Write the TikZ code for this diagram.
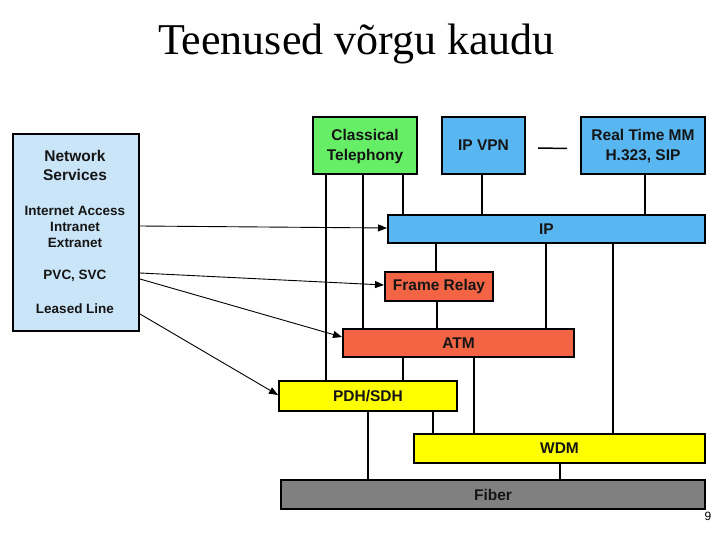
\documentclass[tikz,border=0pt]{standalone}
\usepackage{fontspec}
\setmainfont{Liberation Serif}
\newfontfamily\diagfont{Liberation Sans}
\usetikzlibrary{arrows.meta}
\definecolor{nsblue}{HTML}{CAE4F8}
\definecolor{boxgreen}{HTML}{66EE66}
\definecolor{boxblue}{HTML}{58B6F0}
\definecolor{boxred}{HTML}{F26444}
\definecolor{boxyellow}{HTML}{FFFF00}
\definecolor{boxgray}{HTML}{808080}
\definecolor{ink}{HTML}{151515}
\tikzset{
  layer/.style={draw=black, line width=2pt, inner sep=0pt, align=center, text=ink,
    font=\diagfont\bfseries\fontsize{15.5}{18}\selectfont},
  nstext/.style={inner sep=0pt, align=center, text=ink, font=\diagfont\bfseries\fontsize{13.5}{16}\selectfont},
  link/.style={line width=1.5pt},
  thicklink/.style={line width=2pt},
  svcarrow/.style={line width=0.9pt, -{Triangle[length=9pt,width=7pt]}},
}
\begin{document}
\begin{tikzpicture}[x=1pt,y=-1pt]
\useasboundingbox (0,0) rectangle (720,540);
% title
\node[font=\fontsize{44}{48}\selectfont, inner sep=0pt] (title) at (356.5,44) {Teenused võrgu kaudu};
% boxes
\node[layer, fill=nsblue, minimum width=126, minimum height=197] (NS) at (76,232.5) {};
\node[layer, fill=boxgreen, minimum width=104, minimum height=57] (CT) at (365,146) {Classical\\[2pt]Telephony};
\node[layer, fill=boxblue, minimum width=83, minimum height=57] (VPN) at (483.5,145.5) {IP VPN};
\node[layer, fill=boxblue, minimum width=124, minimum height=57] (RT) at (643,146) {Real Time MM\\[2pt]H.323, SIP};
\node[layer, fill=boxblue, minimum width=317, minimum height=28] (IP) at (546.5,229) {IP};
\node[layer, fill=boxred, minimum width=108, minimum height=29] (FR) at (439,286.5) {Frame Relay};
\node[layer, fill=boxred, minimum width=231, minimum height=28] (ATM) at (458.5,343) {ATM};
\node[layer, fill=boxyellow, minimum width=178, minimum height=30] (PDH) at (368,396) {PDH/SDH};
\node[layer, fill=boxyellow, minimum width=291, minimum height=29] (WDM) at (559.5,448.5) {WDM};
\node[layer, fill=boxgray, minimum width=424, minimum height=29] (FIB) at (493,494.5) {Fiber};
% network services text
\node[nstext, font=\diagfont\bfseries\fontsize{15.5}{19}\selectfont] (nsA) at (75,165) {Network\\Services};
\node[nstext] (nsB) at (75,226.5) {Internet Access\\Intranet\\Extranet};
\node[nstext] (nsC) at (75,275.5) {PVC, SVC};
\node[nstext] (nsD) at (75,308.5) {Leased Line};
% page number
\node[font=\diagfont\fontsize{12}{14}\selectfont, inner sep=0pt] (pg) at (708,516) {9};
% vertical links
\draw[link] (CT.south -| 326,0) -- (PDH.north -| 326,0);
\draw[thicklink] (CT.south -| 363,0) -- (ATM.north -| 363,0);
\draw[link] (CT.south -| 403,0) -- (IP.north -| 403,0);
\draw[thicklink] (VPN.south -| 482,0) -- (IP.north -| 482,0);
\draw[link] (RT.south -| 645,0) -- (IP.north -| 645,0);
\draw[link] (IP.south -| 436,0) -- (FR.north -| 436,0);
\draw[link] (IP.south -| 546,0) -- (ATM.north -| 546,0);
\draw[link] (IP.south -| 613,0) -- (WDM.north -| 613,0);
\draw[thicklink] (FR.south -| 437,0) -- (ATM.north -| 437,0);
\draw[link] (ATM.south -| 403,0) -- (PDH.north -| 403,0);
\draw[link] (ATM.south -| 474,0) -- (WDM.north -| 474,0);
\draw[thicklink] (PDH.south -| 368,0) -- (FIB.north -| 368,0);
\draw[link] (PDH.south -| 433,0) -- (WDM.north -| 433,0);
\draw[link] (WDM.south -| 560,0) -- (FIB.north -| 560,0);
% IP VPN -- Real Time
\draw[link] ([xshift=12,yshift=-2.5]VPN.east) -- ([xshift=-13,yshift=-2.5]RT.west);
% service arrows
\draw[svcarrow] (NS.east |- 0,226) -- (IP.west |- 0,228);
\draw[svcarrow] (NS.east |- 0,273) -- (FR.west |- 0,285);
\draw[svcarrow] (NS.east |- 0,279) -- (ATM.west |- 0,337);
\draw[svcarrow] (NS.east |- 0,314) -- (PDH.west |- 0,395);
\end{tikzpicture}
\end{document}
